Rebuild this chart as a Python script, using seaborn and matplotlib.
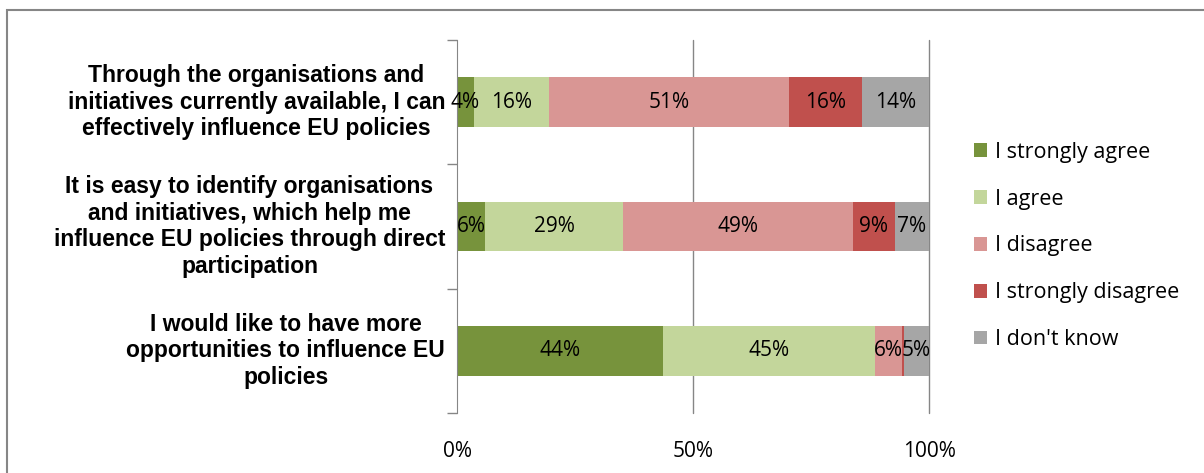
import numpy as np
import pandas as pd
import matplotlib
matplotlib.use('Agg')
import matplotlib.pyplot as plt
import seaborn as sns
from matplotlib.patches import Rectangle, Patch

# ── data ──────────────────────────────────────────────────────────────────────
statements = [
    'Through the organisations and\ninitiatives currently available, I can\neffectively influence EU policies',
    'It is easy to identify organisations\nand initiatives, which help me\ninfluence EU policies through direct\nparticipation',
    'I would like to have more\nopportunities to influence EU\npolicies',
]
answers = ['I strongly agree', 'I agree', 'I disagree', 'I strongly disagree', "I don't know"]
strongly_agree    = [3.6, 5.9, 43.6]
agree             = [15.9, 29.3, 45.0]
disagree          = [50.8, 48.6, 5.7]
strongly_disagree = [15.6, 9.0, 0.3]
dont_know         = [14.1, 7.2, 5.4]
colors = ['#77933C', '#C3D69B', '#D99694', '#C0504D', '#A6A6A6']

series = [strongly_agree, agree, disagree, strongly_disagree, dont_know]
df = pd.DataFrame(dict(zip(answers, series)), index=statements)
cum = df.cumsum(axis=1)

# ── plot ──────────────────────────────────────────────────────────────────────
sns.set_style('white')
plt.rcParams['font.family'] = ['Open Sans', 'DejaVu Sans']
plt.rcParams['text.color'] = 'black'
plt.rcParams['xtick.color'] = 'black'

fig = plt.figure(figsize=(12.04, 4.73), dpi=100)
ax = fig.add_axes([0.3796, 0.1268, 0.3920, 0.7886])

# stacked bars: draw cumulative totals from the last segment back to the first
for ans, col in reversed(list(zip(answers, colors))):
    sns.barplot(x=cum[ans].values, y=list(range(len(statements))), orient='h',
                color=col, width=0.4, ax=ax, saturation=1, linewidth=0,
                native_scale=True)

for i, st in enumerate(statements):
    left = 0
    for ans in answers:
        v = df.loc[st, ans]
        if v >= 1:
            ax.text(left + v / 2, i, f'{v:.0f}%', ha='center', va='center',
                    fontsize=15, color='black')
        left += v

ax.set_xlim(0, 100)
ax.set_ylim(2.5, -0.5)
ax.set_xticks([0, 50, 100])
ax.set_xticklabels(['0%', '50%', '100%'], fontsize=15)
ax.set_yticks([-0.5, 0.5, 1.5, 2.5])
ax.set_yticklabels([])
ax.tick_params(axis='y', length=7, color='#868686', width=1, direction='out', left=True)
ax.tick_params(axis='x', length=0, pad=20, labelcolor='black')
for xv in [50, 100]:
    ax.axvline(xv, color='#868686', linewidth=1, clip_on=False, zorder=0)
for s in ['top', 'right', 'bottom']:
    ax.spines[s].set_visible(False)
ax.spines['left'].set_color('#868686')
ax.set_xlabel('')
ax.set_ylabel('')

for i, st in enumerate(statements):
    ax.text(-2.5, i, st, ha='right', va='center', multialignment='center',
            fontsize=16.5, fontweight='bold', family='Liberation Sans',
            linespacing=1.2, color='black', transform=ax.transData)

handles = [Patch(facecolor=c, edgecolor='none') for c in colors]
leg = fig.legend(handles, answers, loc='center left', bbox_to_anchor=(0.793, 0.48),
                 frameon=False, fontsize=15.5, handlelength=0.6, handleheight=0.6,
                 handletextpad=0.35, labelspacing=1.2)
for t in leg.get_texts():
    t.set_color('black')

fig.patches.append(Rectangle((7 / 1204, -0.1), 1.2, 1 - 10 / 473 + 0.1,
                             transform=fig.transFigure, fill=False,
                             edgecolor='#868686', linewidth=1.5))

fig.savefig('out.png', dpi=100)
